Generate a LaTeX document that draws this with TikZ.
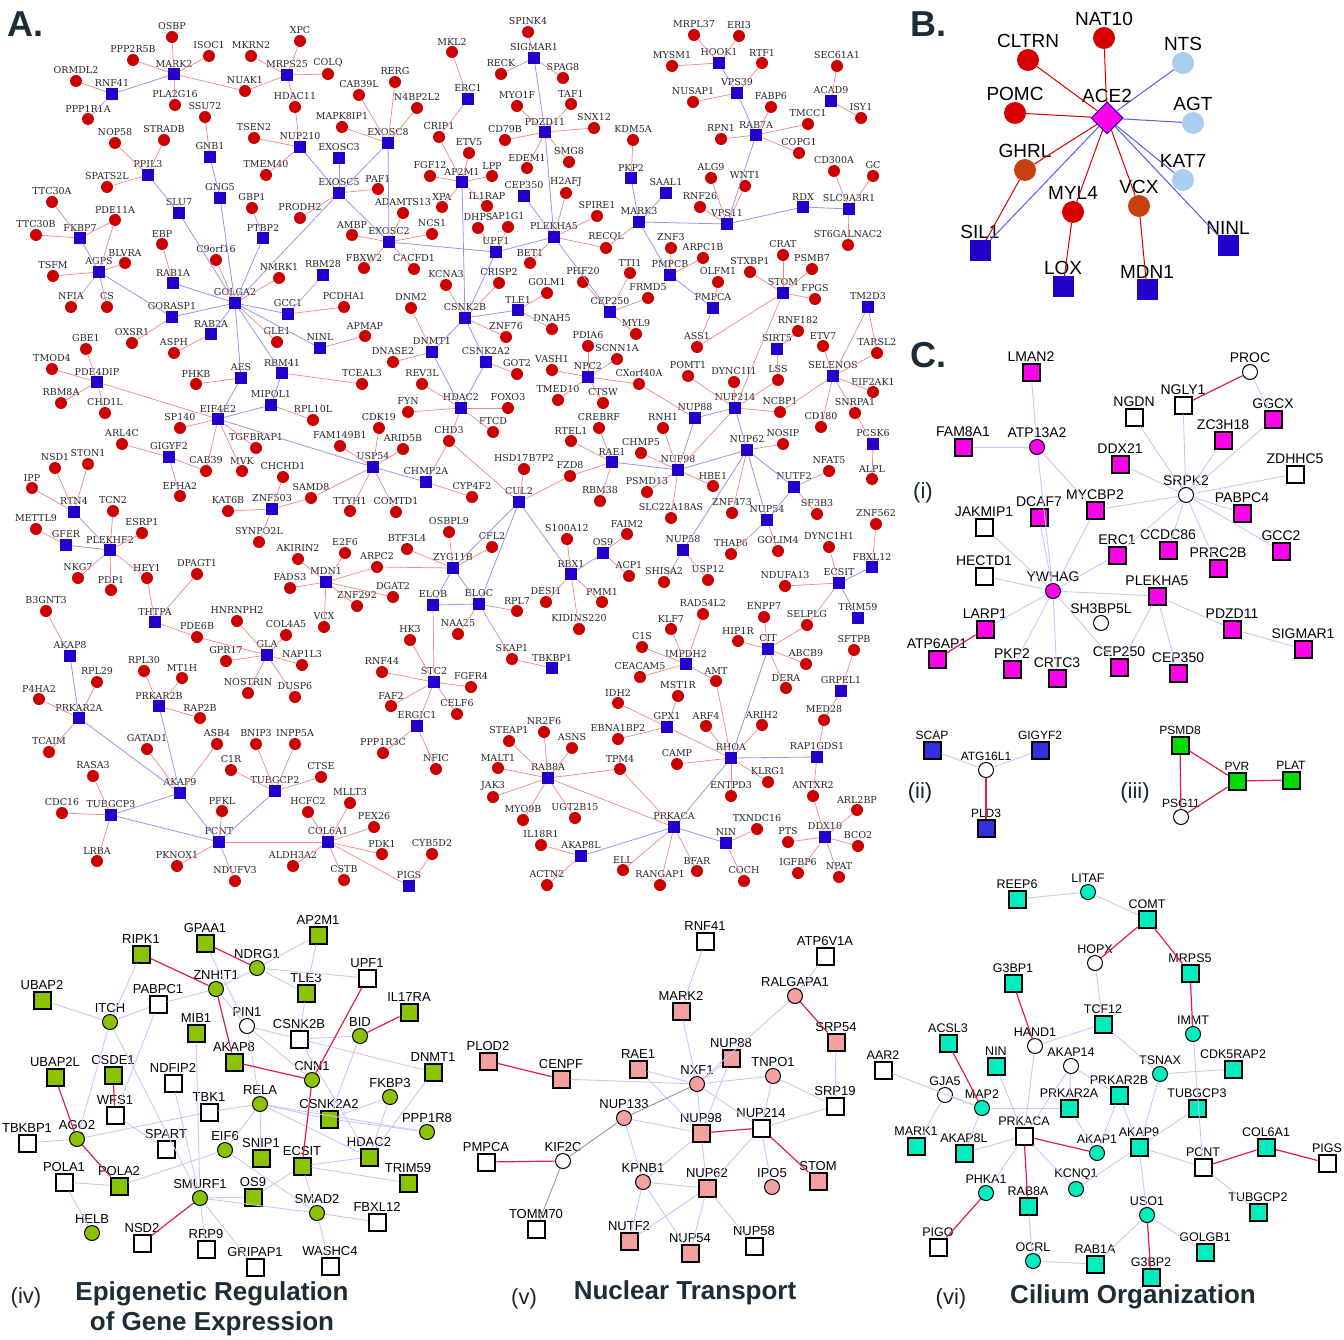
\documentclass[tikz,border=0pt]{standalone}
\usepackage{fontspec}
\setmainfont{DejaVu Serif}
\setsansfont{Liberation Sans}
\usetikzlibrary{shapes.geometric}
\definecolor{hubblue}{RGB}{34,0,204}
\definecolor{leafred}{RGB}{204,0,0}
\definecolor{redline}{RGB}{240,135,135}
\definecolor{blueline}{RGB}{150,150,240}
\definecolor{lav}{RGB}{200,200,248}
\definecolor{crim}{RGB}{225,30,70}
\definecolor{magn}{RGB}{255,0,235}
\definecolor{ygreen}{RGB}{140,195,0}
\definecolor{pinkn}{RGB}{244,160,160}
\definecolor{turq}{RGB}{0,238,190}
\definecolor{ltblue}{RGB}{168,206,240}
\definecolor{orng}{RGB}{200,64,16}
\definecolor{bred}{RGB}{214,0,0}
\definecolor{titlec}{RGB}{28,45,55}
\definecolor{grn}{RGB}{0,220,0}
\definecolor{sblue}{RGB}{50,50,220}

\begin{document}
\begin{tikzpicture}[x=1pt, y=-1pt,
  hub/.style={rectangle, fill=hubblue, minimum size=12, inner sep=0pt},
  leaf/.style={circle, fill=leafred, minimum size=12, inner sep=0pt},
  rl/.style={draw=redline, line width=0.7pt},
  bl/.style={draw=blueline, line width=0.8pt},
  sq/.style={rectangle, draw=black, line width=2pt, minimum size=17, inner sep=0pt, fill=#1},
  sq/.default=white,
  ci/.style={circle, draw=black, line width=1pt, minimum size=15, inner sep=0pt, fill=#1},
  ci/.default=white,
  le/.style={draw=lav, line width=0.9pt},
  ce/.style={draw=crim, line width=1.2pt},
  ge/.style={draw=gray!80, line width=0.9pt},
  panel/.style={font=\sffamily\bfseries\fontsize{36}{36}\selectfont, text=titlec},
  sub/.style={font=\sffamily\fontsize{22}{22}\selectfont, text=titlec!80!black},
  ttl/.style={font=\sffamily\bfseries\fontsize{26}{30}\selectfont, text=titlec, align=center}
]
\useasboundingbox (0,0) rectangle (1344,1340);

% Panel labels
\node[panel] (lA) at (26,24) {A.};
\node[panel] (lB) at (928,24) {B.};
\node[panel] (lC) at (928,355) {C.};

% ---------------- Panel A ----------------
\begin{scope}[every label/.style={font=\fontsize{9.5}{10}\selectfont, text=black!85, inner sep=0.5pt}, label distance=0pt]
% hubs
\node[hub,label=above:MARK2] (MARK2) at (174,74) {};
\node[hub,label=above:RNF41] (RNF41) at (112,94) {};
\node[hub,label=above:MRPS25] (MRPS25) at (287,75) {};
\node[hub,label=above:NUP210] (NUP210) at (300,147) {};
\node[hub,label=above:GNB1] (GNB1) at (210,157) {};
\node[hub,label=above:PPIL3] (PPIL3) at (148,175) {};
\node[hub,label=above:GNG5] (GNG5) at (220,198) {};
\node[hub,label=above:SLU7] (SLU7) at (179,213) {};
\node[hub,label=above:FKBP7] (FKBP7) at (80,238) {};
\node[hub,label=above:PTBP2] (PTBP2) at (263,238) {};
\node[hub,label=above:AGPS] (AGPS) at (99,272) {};
\node[hub,label=above:RAB1A] (RAB1A) at (173,283) {};
\node[hub,label=above:GOLGA2] (GOLGA2) at (235,303) {};
\node[hub,label=above:GORASP1] (GORASP1) at (172,317) {};
\node[hub,label=above:GCC1] (GCC1) at (288,314) {};
\node[hub,label=above:RAB2A] (RAB2A) at (211,334) {};
\node[hub,label=above:AES] (AES) at (241,378) {};
\node[hub,label=above:RBM41] (RBM41) at (282,373) {};
\node[hub,label=above:PDE4DIP] (PDE4DIP) at (97,382) {};
\node[hub,label=above:MIPOL1] (MIPOL1) at (271,405) {};
\node[hub,label=above:EIF4E2] (EIF4E2) at (218,419) {};
\node[hub,label=above:GIGYF2] (GIGYF2) at (169,457) {};
\node[hub,label=above:RTN4] (RTN4) at (74,512) {};
\node[hub,label=above:ZNF503] (ZNF503) at (272,509) {};
\node[hub,label=above:GFER] (GFER) at (66,545) {};
\node[hub,label=above:PLEKHF2] (PLEKHF2) at (110,550) {};
\node[hub,label=above:THTPA] (THTPA) at (155,622) {};
\node[hub,label=above:AKAP8] (AKAP8) at (70,656) {};
\node[hub,label=above:GLA] (GLA) at (267,655) {};
\node[hub,label=above:PRKAR2B] (PRKAR2B) at (159,706) {};
\node[hub,label=above:PRKAR2A] (PRKAR2A) at (79,718) {};
\node[hub,label=above:AKAP9] (AKAP9) at (180,793) {};
\node[hub,label=above:TUBGCP2] (TUBGCP2) at (275,791) {};
\node[hub,label=above:TUBGCP3] (TUBGCP3) at (111,815) {};
\node[hub,label=above:PCNT] (PCNT) at (219,842) {};
\node[hub,label=above:COL6A1] (COL6A1) at (328,842) {};
\node[hub,label=above:PIGS] (PIGS) at (409,886) {};
\node[hub,label=above:SIGMAR1] (SIGMAR1) at (534,58) {};
\node[hub,label=above:ERC1] (ERC1) at (468,99) {};
\node[hub,label=above:EXOSC8] (EXOSC8) at (388,143) {};
\node[hub,label=above:PDZD11] (PDZD11) at (545,132) {};
\node[hub,label=above:EXOSC3] (EXOSC3) at (339,158) {};
\node[hub,label=above:AP2M1] (AP2M1) at (462,182) {};
\node[hub,label=above:EXOSC5] (EXOSC5) at (339,193) {};
\node[hub,label=above:CEP350] (CEP350) at (524,196) {};
\node[hub,label=above:PLEKHA5] (PLEKHA5) at (554,237) {};
\node[hub,label=above:EXOSC2] (EXOSC2) at (389,242) {};
\node[hub,label=above:UPF1] (UPF1) at (496,252) {};
\node[hub,label=above:RBM28] (RBM28) at (323,275) {};
\node[hub,label=above:CSNK2B] (CSNK2B) at (465,318) {};
\node[hub,label=above:TLE1] (TLE1) at (518,310) {};
\node[hub,label=above:NINL] (NINL) at (320,348) {};
\node[hub,label=above:DNMT1] (DNMT1) at (432,352) {};
\node[hub,label=above:CSNK2A2] (CSNK2A2) at (486,362) {};
\node[hub,label=above:HDAC2] (HDAC2) at (461,408) {};
\node[hub,label=above:USP54] (USP54) at (373,467) {};
\node[hub,label=above:CHMP2A] (CHMP2A) at (426,482) {};
\node[hub,label=above:CUL2] (CUL2) at (519,502) {};
\node[hub,label=above:ZYG11B] (ZYG11B) at (453,568) {};
\node[hub,label=above:MDN1] (MDN1) at (326,582) {};
\node[hub,label=above:RBX1] (RBX1) at (571,574) {};
\node[hub,label=above:ELOB] (ELOB) at (433,605) {};
\node[hub,label=above:ELOC] (ELOC) at (479,604) {};
\node[hub,label=above:STC2] (STC2) at (434,682) {};
\node[hub,label=above:TBKBP1] (TBKBP1) at (552,668) {};
\node[hub,label=above:ERGIC1] (ERGIC1) at (417,726) {};
\node[hub,label=above:RAB8A] (RAB8A) at (548,778) {};
\node[hub,label=above:AKAP8L] (AKAP8L) at (581,856) {};
\node[hub,label=above:HOOK1] (HOOK1) at (719,63) {};
\node[hub,label=above:VPS39] (VPS39) at (737,93) {};
\node[hub,label=above:ACAD9] (ACAD9) at (831,101) {};
\node[hub,label=above:RAB7A] (RAB7A) at (756,135) {};
\node[hub,label=above:PKP2] (PKP2) at (631,178) {};
\node[hub,label=above:SAAL1] (SAAL1) at (666,193) {};
\node[hub,label=above:RDX] (RDX) at (803,207) {};
\node[hub,label=above:SLC9A3R1] (SLC9A3R1) at (849,209) {};
\node[hub,label=above:MARK3] (MARK3) at (639,222) {};
\node[hub,label=above:VPS11] (VPS11) at (727,224) {};
\node[hub,label=above:PMPCB] (PMPCB) at (670,275) {};
\node[hub,label=above:STOM] (STOM) at (783,293) {};
\node[hub,label=above:TM2D3] (TM2D3) at (868,307) {};
\node[hub,label=above:CEP250] (CEP250) at (610,312) {};
\node[hub,label=above:PMPCA] (PMPCA) at (713,308) {};
\node[hub,label=above:SIRT5] (SIRT5) at (777,349) {};
\node[hub,label=above:SELENOS] (SELENOS) at (833,376) {};
\node[hub,label=above:NPC2] (NPC2) at (588,377) {};
\node[hub,label=above:NUP214] (NUP214) at (735,408) {};
\node[hub,label=above:NUP88] (NUP88) at (695,418) {};
\node[hub,label=above:PCSK6] (PCSK6) at (873,444) {};
\node[hub,label=above:NUP62] (NUP62) at (747,450) {};
\node[hub,label=above:RAE1] (RAE1) at (612,462) {};
\node[hub,label=above:NUP98] (NUP98) at (678,470) {};
\node[hub,label=above:NUTF2] (NUTF2) at (794,487) {};
\node[hub,label=above:NUP54] (NUP54) at (767,520) {};
\node[hub,label=above:NUP58] (NUP58) at (683,550) {};
\node[hub,label=above:OS9] (OS9) at (603,553) {};
\node[hub,label=above:FBXL12] (FBXL12) at (872,567) {};
\node[hub,label=above:ECSIT] (ECSIT) at (839,583) {};
\node[hub,label=above:TRIM59] (TRIM59) at (858,618) {};
\node[hub,label=above:CIT] (CIT) at (768,649) {};
\node[hub,label=above:IMPDH2] (IMPDH2) at (686,664) {};
\node[hub,label=above:GRPEL1] (GRPEL1) at (841,691) {};
\node[hub,label=above:GPX1] (GPX1) at (667,727) {};
\node[hub,label=above:RHOA] (RHOA) at (731,758) {};
\node[hub,label=above:RAP1GDS1] (RAP1GDS1) at (817,757) {};
\node[hub,label=above:PRKACA] (PRKACA) at (674,827) {};
\node[hub,label=above:DDX10] (DDX10) at (825,837) {};
\node[hub,label=above:NIN] (NIN) at (726,843) {};
% leaves, upper left
\node[leaf,label=above:OSBP] (OSBP) at (172,37) {};
\node[leaf,label=above:PPP2R5B] (PPP2R5B) at (133,60) {};
\node[leaf,label=above:ISOC1] (ISOC1) at (209,56) {};
\node[leaf,label=above:MKRN2] (MKRN2) at (251,56) {};
\node[leaf,label=above:XPC] (XPC) at (300,41) {};
\node[leaf,label=above:ORMDL2] (ORMDL2) at (76,81) {};
\node[leaf,label=above:NUAK1] (NUAK1) at (245,91) {};
\node[leaf,label=above:PLA2G16] (PLA2G16) at (175,105) {};
\node[leaf,label=above:PPP1R1A] (PPP1R1A) at (88,119) {};
\node[leaf,label=above:SSU72] (SSU72) at (205,117) {};
\node[leaf,label=above:HDAC11] (HDAC11) at (295,107) {};
\node[leaf,label=above:NOP58] (NOP58) at (115,143) {};
\node[leaf,label=above:STRADB] (STRADB) at (164,140) {};
\node[leaf,label=above:TSEN2] (TSEN2) at (254,138) {};
\node[leaf,label=above:TMEM40] (TMEM40) at (266,175) {};
\node[leaf,label=above:SPATS2L] (SPATS2L) at (107,187) {};
\node[leaf,label=above:TTC30A] (TTC30A) at (52,202) {};
\node[leaf,label=above:GBP1] (GBP1) at (252,208) {};
\node[leaf,label=above:PDE11A] (PDE11A) at (115,220) {};
\node[leaf,label=above:PRODH2] (PRODH2) at (300,218) {};
\node[leaf,label=above:TTC30B] (TTC30B) at (36,235) {};
\node[leaf,label=above:EBP] (EBP) at (162,244) {};
\node[leaf,label=above:C9orf16] (C9orf16) at (216,260) {};
\node[leaf,label=above:BLVRA] (BLVRA) at (125,263) {};
\node[leaf,label=above:TSFM] (TSFM) at (53,276) {};
\node[leaf,label=above:NMRK1] (NMRK1) at (279,278) {};
\node[leaf,label=above:NFIA] (NFIA) at (71,307) {};
\node[leaf,label=above:CS] (CS) at (107,307) {};
% leaves, upper middle
\node[leaf,label=above:SPINK4] (SPINK4) at (528,32) {};
\node[leaf,label=above:MKL2] (MKL2) at (452,52) {};
\node[leaf,label=above:COLQ] (COLQ) at (328,74) {};
\node[leaf,label=above:RERG] (RERG) at (395,82) {};
\node[leaf,label=above:CAB39L] (CAB39L) at (359,95) {};
\node[leaf,label=above:RECK] (RECK) at (501,74) {};
\node[leaf,label=above:SPAG8] (SPAG8) at (563,78) {};
\node[leaf,label=above:N4BP2L2] (N4BP2L2) at (417,108) {};
\node[leaf,label=above:MYO1F] (MYO1F) at (517,106) {};
\node[leaf,label=above:TAF1] (TAF1) at (571,104) {};
\node[leaf,label=above:MAPK8IP1] (MAPK8IP1) at (342,127) {};
\node[leaf,label=above:CRIP1] (CRIP1) at (439,137) {};
\node[leaf,label=above:CD79B] (CD79B) at (505,140) {};
\node[leaf,label=above:SNX12] (SNX12) at (594,128) {};
\node[leaf,label=above:ETV5] (ETV5) at (469,153) {};
\node[leaf,label=above:SMG8] (SMG8) at (569,162) {};
\node[leaf,label=above:EDEM1] (EDEM1) at (527,168) {};
\node[leaf,label=above:FGF12] (FGF12) at (430,176) {};
\node[leaf,label=above:LPP] (LPP) at (492,176) {};
\node[leaf,label=above:PAF1] (PAF1) at (378,189) {};
\node[leaf,label=above:H2AFJ] (H2AFJ) at (566,193) {};
\node[leaf,label=above:XPA] (XPA) at (442,207) {};
\node[leaf,label=above:IL1RAP] (IL1RAP) at (487,206) {};
\node[leaf,label=above:ADAMTS13] (ADAMTS13) at (403,213) {};
\node[leaf,label=above:SPIRE1] (SPIRE1) at (597,216) {};
\node[leaf,label=above:DHPS] (DHPS) at (478,228) {};
\node[leaf,label=above:AP1G1] (AP1G1) at (508,227) {};
\node[leaf,label=above:AMBP] (AMBP) at (352,235) {};
\node[leaf,label=above:NCS1] (NCS1) at (432,234) {};
\node[leaf,label=above:BET1] (BET1) at (530,263) {};
\node[leaf,label=above:FBXW2] (FBXW2) at (364,268) {};
\node[leaf,label=above:CACFD1] (CACFD1) at (414,269) {};
\node[leaf,label=above:KCNA3] (KCNA3) at (446,285) {};
\node[leaf,label=above:CRISP2] (CRISP2) at (499,283) {};
\node[leaf,label=above:GOLM1] (GOLM1) at (547,293) {};
\node[leaf,label=above:RECQL] (RECQL) at (606,248) {};
\node[leaf,label=above:PHF20] (PHF20) at (583,282) {};
% leaves, upper right
\node[leaf,label=above:MRPL37] (MRPL37) at (694,35) {};
\node[leaf,label=above:ERI3] (ERI3) at (739,36) {};
\node[leaf,label=above:MYSM1] (MYSM1) at (672,66) {};
\node[leaf,label=above:RTF1] (RTF1) at (762,63) {};
\node[leaf,label=above:SEC61A1] (SEC61A1) at (837,66) {};
\node[leaf,label=above:NUSAP1] (NUSAP1) at (693,102) {};
\node[leaf,label=above:FABP6] (FABP6) at (771,107) {};
\node[leaf,label=above:ISY1] (ISY1) at (861,118) {};
\node[leaf,label=above:TMCC1] (TMCC1) at (808,124) {};
\node[leaf,label=above:RPN1] (RPN1) at (721,139) {};
\node[leaf,label=above:KDM5A] (KDM5A) at (633,140) {};
\node[leaf,label=above:COPG1] (COPG1) at (799,153) {};
\node[leaf,label=above:CD300A] (CD300A) at (834,171) {};
\node[leaf,label=above:GC] (GC) at (873,176) {};
\node[leaf,label=above:ALG9] (ALG9) at (711,178) {};
\node[leaf,label=above:WNT1] (WNT1) at (745,186) {};
\node[leaf,label=above:RNF26] (RNF26) at (700,207) {};
\node[leaf,label=above:ST6GALNAC2] (ST6GALNAC2) at (848,245) {};
\node[leaf,label=above:ZNF3] (ZNF3) at (671,248) {};
\node[leaf,label=above:ARPC1B] (ARPC1B) at (703,258) {};
\node[leaf,label=above:CRAT] (CRAT) at (783,255) {};
\node[leaf,label=above:STXBP1] (STXBP1) at (750,272) {};
\node[leaf,label=above:PSMB7] (PSMB7) at (812,269) {};
\node[leaf,label=above:TTI1] (TTI1) at (630,273) {};
\node[leaf,label=above:OLFM1] (OLFM1) at (718,282) {};
\node[leaf,label=above:FRMD5] (FRMD5) at (648,298) {};
\node[leaf,label=above:FPGS] (FPGS) at (815,299) {};
% leaves, centre
\node[leaf,label=above:PCDHA1] (PCDHA1) at (344,307) {};
\node[leaf,label=above:DNM2] (DNM2) at (411,308) {};
\node[leaf,label=above:DNAH5] (DNAH5) at (552,329) {};
\node[leaf,label=above:ZNF76] (ZNF76) at (506,337) {};
\node[leaf,label=above:APMAP] (APMAP) at (365,336) {};
\node[leaf,label=above:PDIA6] (PDIA6) at (588,346) {};
\node[leaf,label=above:DNASE2] (DNASE2) at (393,362) {};
\node[leaf,label=above:VASH1] (VASH1) at (552,370) {};
\node[leaf,label=above:GOT2] (GOT2) at (517,374) {};
\node[leaf,label=above:TCEAL3] (TCEAL3) at (362,384) {};
\node[leaf,label=above:REV3L] (REV3L) at (422,384) {};
\node[leaf,label=above:TMED10] (TMED10) at (558,400) {};
\node[leaf,label=above:FYN] (FYN) at (408,412) {};
\node[leaf,label=above:FOXO3] (FOXO3) at (508,408) {};
\node[leaf,label=above:RPL10L] (RPL10L) at (313,420) {};
\node[leaf,label=above:FTCD] (FTCD) at (493,432) {};
\node[leaf,label=above:CDK19] (CDK19) at (379,428) {};
\node[leaf,label=above:CHD3] (CHD3) at (449,441) {};
\node[leaf,label=above:RTEL1] (RTEL1) at (571,441) {};
\node[leaf,label=above:FAM149B1] (FAM149B1) at (340,446) {};
\node[leaf,label=above:ARID5B] (ARID5B) at (403,449) {};
\node[leaf,label=above:HSD17B7P2] (HSD17B7P2) at (524,469) {};
\node[leaf,label=above:FZD8] (FZD8) at (570,476) {};
\node[leaf,label=above:SAMD8] (SAMD8) at (311,498) {};
\node[leaf,label=above:CYP4F2] (CYP4F2) at (472,497) {};
\node[leaf,label=above:TTYH1] (TTYH1) at (350,511) {};
\node[leaf,label=above:COMTD1] (COMTD1) at (396,512) {};
\node[leaf,label=above:OSBPL9] (OSBPL9) at (449,532) {};
\node[leaf,label=above:S100A12] (S100A12) at (567,539) {};
\node[leaf,label=above:CFL2] (CFL2) at (492,547) {};
\node[leaf,label=above:BTF3L4] (BTF3L4) at (407,549) {};
\node[leaf,label=above:E2F6] (E2F6) at (345,553) {};
\node[leaf,label=above:AKIRIN2] (AKIRIN2) at (298,559) {};
\node[leaf,label=above:ARPC2] (ARPC2) at (377,567) {};
% leaves, centre right
\node[leaf,label=above:MYL9] (MYL9) at (636,334) {};
\node[leaf,label=above:RNF182] (RNF182) at (798,331) {};
\node[leaf,label=above:ETV7] (ETV7) at (823,346) {};
\node[leaf,label=above:TARSL2] (TARSL2) at (877,353) {};
\node[leaf,label=above:ASS1] (ASS1) at (697,347) {};
\node[leaf,label=above:SCNN1A] (SCNN1A) at (617,359) {};
\node[leaf,label=above:POMT1] (POMT1) at (688,376) {};
\node[leaf,label=above:DYNC1I1] (DYNC1I1) at (734,382) {};
\node[leaf,label=above:LSS] (LSS) at (778,380) {};
\node[leaf,label=above:CXorf40A] (CXorf40A) at (639,384) {};
\node[leaf,label=above:EIF2AK1] (EIF2AK1) at (873,392) {};
\node[leaf,label=above:CTSW] (CTSW) at (603,403) {};
\node[leaf,label=above:NCBP1] (NCBP1) at (780,412) {};
\node[leaf,label=above:SNRPA1] (SNRPA1) at (855,413) {};
\node[leaf,label=above:CREBRF] (CREBRF) at (599,428) {};
\node[leaf,label=above:RNH1] (RNH1) at (663,428) {};
\node[leaf,label=above:CD180] (CD180) at (821,427) {};
\node[leaf,label=above:NOSIP] (NOSIP) at (783,444) {};
\node[leaf,label=above:CHMP5] (CHMP5) at (641,453) {};
\node[leaf,label=above:NFAT5] (NFAT5) at (829,471) {};
\node[leaf,label=above:ALPL] (ALPL) at (872,479) {};
\node[leaf,label=above:HBE1] (HBE1) at (713,486) {};
\node[leaf,label=above:PSMD13] (PSMD13) at (647,492) {};
\node[leaf,label=above:RBM38] (RBM38) at (600,501) {};
\node[leaf,label=above:SLC22A18AS] (SLC22A18AS) at (671,518) {};
\node[leaf,label=above:ZNF473] (ZNF473) at (732,513) {};
\node[leaf,label=above:SF3B3] (SF3B3) at (817,514) {};
\node[leaf,label=above:ZNF562] (ZNF562) at (876,524) {};
\node[leaf,label=above:FAIM2] (FAIM2) at (627,534) {};
\node[leaf,label=above:DYNC1H1] (DYNC1H1) at (829,547) {};
\node[leaf,label=above:THAP6] (THAP6) at (731,554) {};
\node[leaf,label=above:GOLIM4] (GOLIM4) at (778,551) {};
\node[leaf,label=above:ACP1] (ACP1) at (629,576) {};
\node[leaf,label=above:SHISA2] (SHISA2) at (664,582) {};
\node[leaf,label=above:USP12] (USP12) at (708,580) {};
\node[leaf,label=above:NDUFA13] (NDUFA13) at (785,586) {};
\node[leaf,label=above:PMM1] (PMM1) at (602,602) {};
% leaves, centre left
\node[leaf,label=above:GBE1] (GBE1) at (86,349) {};
\node[leaf,label=above:OXSR1] (OXSR1) at (132,343) {};
\node[leaf,label=above:GLE1] (GLE1) at (277,342) {};
\node[leaf,label=above:ASPH] (ASPH) at (174,353) {};
\node[leaf,label=above:TMOD4] (TMOD4) at (52,369) {};
\node[leaf,label=above:PHKB] (PHKB) at (196,384) {};
\node[leaf,label=above:RBM8A] (RBM8A) at (61,403) {};
\node[leaf,label=above:CHD1L] (CHD1L) at (105,413) {};
\node[leaf,label=above:SP140] (SP140) at (180,428) {};
\node[leaf,label=above:ARL4C] (ARL4C) at (122,444) {};
\node[leaf,label=above:TGFBRAP1] (TGFBRAP1) at (256,448) {};
\node[leaf,label=above:NSD1] (NSD1) at (55,468) {};
\node[leaf,label=above:STON1] (STON1) at (88,464) {};
\node[leaf,label=above:CAB39] (CAB39) at (206,471) {};
\node[leaf,label=above:MVK] (MVK) at (242,471) {};
\node[leaf,label=above:CHCHD1] (CHCHD1) at (283,477) {};
\node[leaf,label=above:IPP] (IPP) at (32,488) {};
\node[leaf,label=above:EPHA2] (EPHA2) at (180,496) {};
\node[leaf,label=above:TCN2] (TCN2) at (113,511) {};
\node[leaf,label=above:KAT6B] (KAT6B) at (228,511) {};
\node[leaf,label=above:ESRP1] (ESRP1) at (142,533) {};
\node[leaf,label=above:METTL9] (METTL9) at (36,529) {};
\node[leaf,label=above:SYNPO2L] (SYNPO2L) at (259,542) {};
\node[leaf,label=above:NKG7] (NKG7) at (78,578) {};
\node[leaf,label=above:HEY1] (HEY1) at (147,578) {};
\node[leaf,label=above:DPAGT1] (DPAGT1) at (197,574) {};
\node[leaf,label=above:PDP1] (PDP1) at (111,590) {};
\node[leaf,label=above:FADS3] (FADS3) at (290,588) {};
% leaves, lower left
\node[leaf,label=above:B3GNT3] (B3GNT3) at (46,611) {};
\node[leaf,label=above:HNRNPH2] (HNRNPH2) at (237,621) {};
\node[leaf,label=above:PDE6B] (PDE6B) at (197,637) {};
\node[leaf,label=above:COL4A5] (COL4A5) at (286,635) {};
\node[leaf,label=above:GPR17] (GPR17) at (226,661) {};
\node[leaf,label=above:NAP1L3] (NAP1L3) at (302,665) {};
\node[leaf,label=above:RPL30] (RPL30) at (144,671) {};
\node[leaf,label=above:MT1H] (MT1H) at (182,678) {};
\node[leaf,label=above:RPL29] (RPL29) at (97,682) {};
\node[leaf,label=above:NOSTRIN] (NOSTRIN) at (248,693) {};
\node[leaf,label=above:DUSP6] (DUSP6) at (295,697) {};
\node[leaf,label=above:P4HA2] (P4HA2) at (39,699) {};
\node[leaf,label=above:RAP2B] (RAP2B) at (200,718) {};
\node[leaf,label=above:GATAD1] (GATAD1) at (147,749) {};
\node[leaf,label=above:ASB4] (ASB4) at (217,744) {};
\node[leaf,label=above:BNIP3] (BNIP3) at (256,744) {};
\node[leaf,label=above:INPP5A] (INPP5A) at (295,744) {};
\node[leaf,label=above:TCAIM] (TCAIM) at (49,752) {};
\node[leaf,label=above:C1R] (C1R) at (231,770) {};
\node[leaf,label=above:RASA3] (RASA3) at (93,776) {};
\node[leaf,label=above:CTSE] (CTSE) at (321,777) {};
\node[leaf,label=above:PFKL] (PFKL) at (222,811) {};
\node[leaf,label=above:CDC16] (CDC16) at (62,813) {};
\node[leaf,label=above:HCFC2] (HCFC2) at (308,812) {};
\node[leaf,label=above:LRBA] (LRBA) at (97,861) {};
\node[leaf,label=above:PKNOX1] (PKNOX1) at (177,866) {};
\node[leaf,label=above:ALDH3A2] (ALDH3A2) at (293,866) {};
\node[leaf,label=above:NDUFV3] (NDUFV3) at (235,881) {};
% leaves, lower middle
\node[leaf,label=above:ZNF292] (ZNF292) at (357,606) {};
\node[leaf,label=above:DGAT2] (DGAT2) at (393,597) {};
\node[leaf,label=above:VCX] (VCX) at (324,627) {};
\node[leaf,label=above:NAA25] (NAA25) at (458,634) {};
\node[leaf,label=above:HK3] (HK3) at (410,640) {};
\node[leaf,label=above:RPL7] (RPL7) at (517,611) {};
\node[leaf,label=above:DESI1] (DESI1) at (546,602) {};
\node[leaf,label=above:KIDINS220] (KIDINS220) at (579,629) {};
\node[leaf,label=above:SKAP1] (SKAP1) at (512,659) {};
\node[leaf,label=above:RNF44] (RNF44) at (382,672) {};
\node[leaf,label=above:FGFR4] (FGFR4) at (471,687) {};
\node[leaf,label=above:FAF2] (FAF2) at (391,706) {};
\node[leaf,label=above:CELF6] (CELF6) at (457,714) {};
\node[leaf,label=above:NR2F6] (NR2F6) at (544,732) {};
\node[leaf,label=above:STEAP1] (STEAP1) at (509,741) {};
\node[leaf,label=above:ASNS] (ASNS) at (572,748) {};
\node[leaf,label=above:PPP1R3C] (PPP1R3C) at (383,753) {};
\node[leaf,label=above:NFIC] (NFIC) at (436,769) {};
\node[leaf,label=above:MALT1] (MALT1) at (498,768) {};
\node[leaf,label=above:JAK3] (JAK3) at (493,797) {};
\node[leaf,label=above:MLLT3] (MLLT3) at (350,803) {};
\node[leaf,label=above:UGT2B15] (UGT2B15) at (575,818) {};
\node[leaf,label=above:MYO9B] (MYO9B) at (523,820) {};
\node[leaf,label=above:PEX26] (PEX26) at (374,827) {};
\node[leaf,label=above:IL18R1] (IL18R1) at (541,845) {};
\node[leaf,label=above:PDK1] (PDK1) at (382,854) {};
\node[leaf,label=above:CYB5D2] (CYB5D2) at (432,854) {};
\node[leaf,label=above:CSTB] (CSTB) at (344,880) {};
\node[leaf,label=above:ACTN2] (ACTN2) at (547,885) {};
% leaves, lower right
\node[leaf,label=above:RAD54L2] (RAD54L2) at (703,614) {};
\node[leaf,label=above:ENPP7] (ENPP7) at (764,617) {};
\node[leaf,label=above:KLF7] (KLF7) at (671,629) {};
\node[leaf,label=above:SELPLG] (SELPLG) at (807,625) {};
\node[leaf,label=above:C1S] (C1S) at (642,647) {};
\node[leaf,label=above:HIP1R] (HIP1R) at (738,641) {};
\node[leaf,label=above:SFTPB] (SFTPB) at (854,650) {};
\node[leaf,label=above:ABCB9] (ABCB9) at (806,664) {};
\node[leaf,label=above:CEACAM5] (CEACAM5) at (640,677) {};
\node[leaf,label=above:AMT] (AMT) at (716,681) {};
\node[leaf,label=above:DERA] (DERA) at (786,688) {};
\node[leaf,label=above:MST1R] (MST1R) at (678,696) {};
\node[leaf,label=above:IDH2] (IDH2) at (618,703) {};
\node[leaf,label=above:MED28] (MED28) at (824,720) {};
\node[leaf,label=above:ARF4] (ARF4) at (706,726) {};
\node[leaf,label=above:ARIH2] (ARIH2) at (762,725) {};
\node[leaf,label=above:EBNA1BP2] (EBNA1BP2) at (618,739) {};
\node[leaf,label=above:TPM4] (TPM4) at (620,769) {};
\node[leaf,label=above:CAMP] (CAMP) at (677,764) {};
\node[leaf,label=above:KLRG1] (KLRG1) at (768,782) {};
\node[leaf,label=above:ENTPD3] (ENTPD3) at (731,796) {};
\node[leaf,label=above:ANTXR2] (ANTXR2) at (813,796) {};
\node[leaf,label=above:ARL2BP] (ARL2BP) at (857,810) {};
\node[leaf,label=above:TXNDC16] (TXNDC16) at (757,829) {};
\node[leaf,label=above:PTS] (PTS) at (788,842) {};
\node[leaf,label=above:BCO2] (BCO2) at (858,846) {};
\node[leaf,label=above:ELL] (ELL) at (623,870) {};
\node[leaf,label=above:BFAR] (BFAR) at (697,871) {};
\node[leaf,label=above:IGFBP6] (IGFBP6) at (798,873) {};
\node[leaf,label=above:NPAT] (NPAT) at (839,877) {};
\node[leaf,label=above:RANGAP1] (RANGAP1) at (660,885) {};
\node[leaf,label=above:COCH] (COCH) at (744,881) {};
\end{scope}

% hub to hub links
\path[bl] (MARK2) edge (RNF41);
\path[bl] (EXOSC5) edge (NUP210) edge (EXOSC8) edge (EXOSC3) edge (EXOSC2) edge (GOLGA2);
\path[bl] (EXOSC8) edge (EXOSC2);
\path[bl] (UPF1) edge (EXOSC2) edge (PLEKHA5) edge (CSNK2B);
\path[bl] (CSNK2B) edge (AP2M1) edge (TLE1) edge (DNMT1) edge (CSNK2A2);
\path[bl] (HDAC2) edge (DNMT1) edge (CSNK2A2);
\path[bl] (PDZD11) edge (SIGMAR1) edge (PLEKHA5);
\path[bl] (PLEKHA5) edge (CEP350) edge (CEP250);
\path[bl] (MARK3) edge (PKP2) edge (SAAL1) edge (VPS11) edge (PMPCB);
\path[bl] (VPS11) edge (RAB7A) edge (RDX);
\path[bl] (VPS39) edge (RAB7A) edge (HOOK1);
\path[bl] (RDX) edge (SLC9A3R1);
\path[bl] (PMPCB) edge (PMPCA);
\path[bl] (NUP214) edge (NUP88) edge (NUP62);
\path[bl] (NUP98) edge (NUP88) edge (RAE1) edge (NUP62);
\path[bl] (NUP62) edge (NUTF2) edge (NUP54) edge (NUP58);
\path[bl] (NUTF2) edge (NUP54);
\path[bl] (ECSIT) edge (FBXL12) edge (TRIM59);
\path[bl] (RBX1) edge (OS9) edge (CUL2);
\path[bl] (CUL2) edge (ZYG11B) edge (ELOC);
\path[bl] (ZYG11B) edge (ELOB) edge (ELOC);
\path[bl] (ELOB) edge (ELOC);
\path[bl] (USP54) edge (CHMP2A) edge (EIF4E2);
\path[bl] (EIF4E2) edge (AES) edge (MIPOL1);
\path[bl] (MIPOL1) edge (RBM41);
\path[bl] (GOLGA2) edge (RBM41) edge (AES) edge (GNG5) edge (SLU7) edge (PTBP2) edge (RAB1A) edge (GORASP1) edge (GCC1) edge (RAB2A) edge (NINL);
\path[bl] (GNG5) edge (GNB1);
\path[bl] (SLU7) edge (PPIL3);
\path[bl] (AGPS) edge (GORASP1) edge (FKBP7);
\path[bl] (PLEKHF2) edge (RTN4) edge (GFER);
\path[bl] (PRKAR2A) edge (AKAP8) edge (AKAP9);
\path[bl] (AKAP9) edge (PRKAR2B) edge (TUBGCP3) edge (PCNT);
\path[bl] (PCNT) edge (TUBGCP3) edge (TUBGCP2);
\path[bl] (RHOA) edge (CIT) edge (RAP1GDS1) edge (PRKACA);
\path[bl] (PRKACA) edge (NIN) edge (AKAP8L);

% hub to leaf links
\path[rl] (MARK2) edge (OSBP) edge (PPP2R5B) edge (ISOC1) edge (PLA2G16) edge (NUAK1);
\path[rl] (RNF41) edge (ORMDL2) edge (PPP1R1A);
\path[rl] (MRPS25) edge (MKRN2) edge (XPC) edge (COLQ) edge (NUAK1) edge (HDAC11);
\path[rl] (NUP210) edge (HDAC11) edge (TSEN2) edge (TMEM40);
\path[rl] (GNB1) edge (SSU72);
\path[rl] (PPIL3) edge (NOP58) edge (STRADB) edge (SPATS2L);
\path[rl] (FKBP7) edge (TTC30A) edge (TTC30B) edge (PDE11A);
\path[rl] (AGPS) edge (PDE11A) edge (BLVRA) edge (TSFM) edge (NFIA) edge (CS);
\path[rl] (PTBP2) edge (GBP1);
\path[rl] (RAB1A) edge (EBP);
\path[rl] (GOLGA2) edge (C9orf16) edge (NMRK1) edge (GLE1);
\path[rl] (GORASP1) edge (OXSR1);
\path[rl] (RAB2A) edge (ASPH);
\path[rl] (GCC1) edge (PCDHA1) edge (RBM28);
\path[rl] (EXOSC8) edge (CAB39L) edge (RERG) edge (N4BP2L2) edge (MAPK8IP1);
\path[rl] (EXOSC5) edge (PAF1) edge (PRODH2);
\path[rl] (EXOSC2) edge (AMBP) edge (ADAMTS13) edge (NCS1) edge (FBXW2) edge (CACFD1);
\path[rl] (ERC1) edge (MKL2) edge (CRIP1);
\path[rl] (AP2M1) edge (CRIP1) edge (ETV5) edge (FGF12) edge (LPP) edge (XPA) edge (IL1RAP);
\path[rl] (SIGMAR1) edge (SPINK4) edge (RECK) edge (SPAG8);
\path[rl] (PDZD11) edge (MYO1F) edge (TAF1) edge (CD79B) edge (SNX12) edge (SMG8) edge (EDEM1);
\path[rl] (PLEKHA5) edge (H2AFJ) edge (SPIRE1) edge (BET1) edge (RECQL);
\path[rl] (UPF1) edge (DHPS) edge (AP1G1);
\path[rl] (CSNK2B) edge (KCNA3) edge (CRISP2) edge (ZNF76);
\path[rl] (TLE1) edge (DNAH5) edge (GOLM1);
\path[rl] (MARK3) edge (RECQL);
\path[rl] (PKP2) edge (KDM5A);
\path[rl] (VPS11) edge (ALG9) edge (WNT1) edge (RNF26);
\path[rl] (RAB7A) edge (RPN1) edge (FABP6) edge (TMCC1) edge (COPG1);
\path[rl] (VPS39) edge (NUSAP1) edge (RTF1);
\path[rl] (HOOK1) edge (MRPL37) edge (ERI3) edge (MYSM1);
\path[rl] (ACAD9) edge (SEC61A1) edge (ISY1);
\path[rl] (SLC9A3R1) edge (CD300A) edge (GC) edge (ST6GALNAC2);
\path[rl] (PMPCB) edge (ZNF3) edge (ARPC1B);
\path[rl] (PMPCA) edge (OLFM1) edge (ASS1);
\path[rl] (CEP250) edge (PHF20) edge (TTI1) edge (FRMD5) edge (MYL9);
\path[rl] (STOM) edge (CRAT) edge (STXBP1) edge (PSMB7) edge (FPGS) edge (ASS1) edge (NUP214);
\path[rl] (NUP214) edge (DYNC1I1) edge (LSS) edge (NCBP1) edge (POMT1) edge (NUP98);
\path[rl] (SIRT5) edge (LSS) edge (RNF182);
\path[rl] (TM2D3) edge (SELENOS) edge (TARSL2);
\path[rl] (SELENOS) edge (ETV7) edge (TARSL2) edge (EIF2AK1) edge (SNRPA1) edge (CD180) edge (NCBP1);
\path[rl] (PCSK6) edge (SNRPA1) edge (ALPL);
\path[rl] (NPC2) edge (PDIA6) edge (SCNN1A) edge (VASH1) edge (TMED10) edge (CTSW) edge (CXorf40A);
\path[rl] (NUP88) edge (CXorf40A);
\path[rl] (NUP98) edge (RNH1) edge (CHMP5) edge (PSMD13) edge (HBE1) edge (SLC22A18AS);
\path[rl] (NUP62) edge (NOSIP) edge (ZNF473);
\path[rl] (NUTF2) edge (NFAT5) edge (SF3B3);
\path[rl] (NUP54) edge (THAP6) edge (GOLIM4);
\path[rl] (NUP58) edge (SHISA2) edge (USP12);
\path[rl] (FBXL12) edge (ZNF562);
\path[rl] (ECSIT) edge (NDUFA13) edge (DYNC1H1) edge (SELPLG);
\path[rl] (RAE1) edge (CREBRF) edge (RTEL1) edge (FZD8) edge (RBM38);
\path[rl] (CUL2) edge (HSD17B7P2) edge (FZD8) edge (CHD3);
\path[rl] (OS9) edge (FAIM2) edge (ACP1);
\path[rl] (RBX1) edge (S100A12) edge (DESI1) edge (KIDINS220) edge (PMM1);
\path[rl] (ZYG11B) edge (OSBPL9) edge (CFL2) edge (BTF3L4) edge (ARPC2);
\path[rl] (MDN1) edge (AKIRIN2) edge (E2F6) edge (FADS3) edge (ZNF292) edge (ARPC2) edge (VCX) edge (DGAT2);
\path[rl] (ELOB) edge (STC2);
\path[rl] (ELOC) edge (RPL7) edge (NAA25) edge (SKAP1);
\path[rl] (SKAP1) edge (TBKBP1);
\path[rl] (STC2) edge (HK3) edge (RNF44) edge (FGFR4) edge (FAF2) edge (CELF6) edge (ERGIC1);
\path[rl] (ERGIC1) edge (PPP1R3C) edge (NFIC);
\path[rl] (HDAC2) edge (REV3L) edge (FYN) edge (FOXO3) edge (FTCD) edge (CHD3);
\path[rl] (DNMT1) edge (DNASE2) edge (DNM2);
\path[rl] (CSNK2A2) edge (GOT2);
\path[rl] (NINL) edge (APMAP);
\path[rl] (USP54) edge (CDK19) edge (FAM149B1) edge (ARID5B) edge (SAMD8) edge (TTYH1) edge (COMTD1);
\path[rl] (CHMP2A) edge (CYP4F2) edge (CHD3);
\path[rl] (EIF4E2) edge (SP140) edge (CAB39) edge (MVK) edge (TGFBRAP1) edge (PDE4DIP);
\path[rl] (MIPOL1) edge (RPL10L);
\path[rl] (RBM41) edge (TCEAL3);
\path[rl] (AES) edge (PHKB);
\path[rl] (PDE4DIP) edge (GBE1) edge (TMOD4) edge (RBM8A) edge (CHD1L);
\path[rl] (GIGYF2) edge (ARL4C) edge (CAB39) edge (EPHA2);
\path[rl] (ZNF503) edge (CHCHD1) edge (KAT6B) edge (SYNPO2L) edge (SAMD8);
\path[rl] (RTN4) edge (NSD1) edge (STON1) edge (IPP);
\path[rl] (PLEKHF2) edge (TCN2) edge (ESRP1) edge (HEY1) edge (PDP1) edge (NKG7);
\path[rl] (GFER) edge (METTL9);
\path[rl] (THTPA) edge (HEY1) edge (DPAGT1) edge (PDE6B);
\path[rl] (GLA) edge (PDE6B) edge (HNRNPH2) edge (COL4A5) edge (GPR17) edge (NOSTRIN) edge (DUSP6) edge (NAP1L3);
\path[rl] (AKAP8) edge (B3GNT3);
\path[rl] (PRKAR2A) edge (P4HA2) edge (RPL29) edge (TCAIM);
\path[rl] (PRKAR2B) edge (RPL30) edge (MT1H) edge (RAP2B);
\path[rl] (AKAP9) edge (GATAD1) edge (ASB4);
\path[rl] (TUBGCP3) edge (RASA3) edge (CDC16) edge (LRBA);
\path[rl] (TUBGCP2) edge (C1R) edge (BNIP3) edge (INPP5A) edge (CTSE);
\path[rl] (PCNT) edge (PFKL) edge (PKNOX1) edge (NDUFV3) edge (COL6A1);
\path[rl] (COL6A1) edge (HCFC2) edge (MLLT3) edge (PEX26) edge (PDK1) edge (CSTB) edge (ALDH3A2) edge (PIGS);
\path[rl] (PIGS) edge (CYB5D2);
\path[rl] (RAB8A) edge (NR2F6) edge (STEAP1) edge (ASNS) edge (MALT1) edge (JAK3) edge (MYO9B) edge (UGT2B15) edge (TPM4) edge (PRKACA);
\path[rl] (AKAP8L) edge (IL18R1) edge (ACTN2);
\path[rl] (IMPDH2) edge (KLF7) edge (RAD54L2) edge (C1S) edge (CEACAM5) edge (AMT);
\path[rl] (CIT) edge (ENPP7) edge (HIP1R) edge (SELPLG) edge (ABCB9) edge (DERA);
\path[rl] (GPX1) edge (MST1R) edge (IDH2) edge (EBNA1BP2) edge (RHOA);
\path[rl] (RHOA) edge (AMT) edge (ARF4) edge (ARIH2) edge (CAMP) edge (KLRG1) edge (ENTPD3);
\path[rl] (GRPEL1) edge (SFTPB) edge (MED28);
\path[rl] (RAP1GDS1) edge (MED28) edge (ANTXR2);
\path[rl] (DDX10) edge (ANTXR2) edge (ARL2BP) edge (BCO2) edge (NPAT) edge (IGFBP6) edge (PTS);
\path[rl] (PRKACA) edge (TPM4) edge (ELL) edge (RANGAP1) edge (BFAR);
\path[rl] (NIN) edge (TXNDC16) edge (COCH);

% ---------------- Panel B ----------------
\begin{scope}[every label/.style={font=\sffamily\fontsize{19}{19}\selectfont, inner sep=1pt}, label distance=0pt,
  bci/.style={circle, minimum size=22, inner sep=0pt, fill=#1},
  bsq/.style={rectangle, minimum size=21, inner sep=0pt, fill=hubblue}]
\node[diamond, draw=hubblue, line width=1pt, fill=magn, minimum size=32, inner sep=0pt, label={[yshift=-2pt]above:ACE2}] (b-ACE2) at (1107,118) {};
\node[bci=bred, label=above:NAT10] (b-NAT10) at (1104,38) {};
\node[bci=bred, label=above:CLTRN] (b-CLTRN) at (1028,60) {};
\node[bci=ltblue, label=above:NTS] (b-NTS) at (1183,63) {};
\node[bci=bred, label=above:POMC] (b-POMC) at (1015,113) {};
\node[bci=ltblue, label=above:AGT] (b-AGT) at (1193,123) {};
\node[bci=orng, label=above:GHRL] (b-GHRL) at (1025,170) {};
\node[bci=ltblue, label=above:KAT7] (b-KAT7) at (1183,180) {};
\node[bci=orng, label=above:VCX] (b-VCX) at (1139,206) {};
\node[bci=bred, label=above:MYL4] (b-MYL4) at (1073,212) {};
\node[bsq, label=above:SIL1] (b-SIL1) at (980,251) {};
\node[bsq, label=above:NINL] (b-NINL) at (1228,246) {};
\node[bsq, label=above:LOX] (b-LOX) at (1063,287) {};
\node[bsq, label=above:MDN1] (b-MDN1) at (1147,290) {};
\end{scope}
\path[draw=bred, line width=1pt] (b-ACE2) edge (b-NAT10) edge (b-CLTRN) edge (b-POMC) edge (b-GHRL) edge (b-MYL4) edge (b-VCX);
\path[draw=bred, line width=1pt] (b-GHRL) edge (b-SIL1);
\path[draw=bred, line width=1pt] (b-MYL4) edge (b-LOX);
\path[draw=bred, line width=1pt] (b-VCX) edge (b-MDN1);
\path[draw=sblue!80, line width=1pt] (b-ACE2) edge (b-NTS) edge (b-AGT) edge (b-KAT7) edge (b-SIL1) edge (b-NINL);

% ---------------- Panel C ----------------
\node[sub] (sub-i) at (923,493) {(i)};
\begin{scope}[every label/.style={font=\sffamily\fontsize{14}{14}\selectfont, inner sep=1pt}, label distance=0pt]
\node[sq=magn, label=above:LMAN2] (i-LMAN2) at (1031,372) {};
\node[ci, label=above:PROC] (i-PROC) at (1250,372) {};
\node[sq, label=above:NGLY1] (i-NGLY1) at (1183,405) {};
\node[sq, label=above:NGDN] (i-NGDN) at (1134,417) {};
\node[sq=magn, label=above:GGCX] (i-GGCX) at (1273,419) {};
\node[sq=magn, label=above:ZC3H18] (i-ZC3H18) at (1223,440) {};
\node[sq=magn, label=above:FAM8A1] (i-FAM8A1) at (963,447) {};
\node[ci=magn, label=above:ATP13A2] (i-ATP13A2) at (1037,447) {};
\node[sq=magn, label=above:DDX21] (i-DDX21) at (1120,464) {};
\node[sq, label=above:ZDHHC5] (i-ZDHHC5) at (1295,474) {};
\node[ci, label=above:SRPK2] (i-SRPK2) at (1186,495) {};
\node[sq=magn, label=above:PABPC4] (i-PABPC4) at (1242,513) {};
\node[sq=magn, label=above:MYCBP2] (i-MYCBP2) at (1095,510) {};
\node[sq=magn, label=above:DCAF7] (i-DCAF7) at (1039,517) {};
\node[sq, label=above:JAKMIP1] (i-JAKMIP1) at (984,527) {};
\node[sq=magn, label=above:ERC1] (i-ERC1) at (1117,555) {};
\node[sq=magn, label=above:CCDC86] (i-CCDC86) at (1168,550) {};
\node[sq=magn, label=above:GCC2] (i-GCC2) at (1281,551) {};
\node[sq=magn, label=above:PRRC2B] (i-PRRC2B) at (1218,568) {};
\node[sq, label=above:HECTD1] (i-HECTD1) at (984,576) {};
\node[ci=magn, label=above:YWHAG] (i-YWHAG) at (1053,591) {};
\node[sq=magn, label=above:PLEKHA5] (i-PLEKHA5) at (1157,596) {};
\node[ci, label=above:SH3BP5L] (i-SH3BP5L) at (1101,623) {};
\node[sq=magn, label=above:PDZD11] (i-PDZD11) at (1232,629) {};
\node[sq=magn, label=above:SIGMAR1] (i-SIGMAR1) at (1303,649) {};
\node[sq=magn, label=above:LARP1] (i-LARP1) at (985,629) {};
\node[sq=magn, label=above:ATP6AP1] (i-ATP6AP1) at (937,659) {};
\node[sq=magn, label=above:PKP2] (i-PKP2) at (1012,669) {};
\node[sq=magn, label=above:CRTC3] (i-CRTC3) at (1057,678) {};
\node[sq=magn, label=above:CEP250] (i-CEP250) at (1119,667) {};
\node[sq=magn, label=above:CEP350] (i-CEP350) at (1178,673) {};
\end{scope}
\path[le] (i-ATP13A2) edge (i-LMAN2) edge (i-FAM8A1) edge (i-YWHAG) edge (i-MYCBP2);
\path[le] (i-SRPK2) edge (i-NGDN) edge (i-NGLY1) edge (i-ZC3H18) edge (i-GGCX) edge (i-DDX21) edge (i-ZDHHC5) edge (i-PABPC4) edge (i-GCC2) edge (i-PRRC2B) edge (i-CCDC86) edge (i-ERC1) edge (i-MYCBP2);
\path[le] (i-PROC) edge (i-GGCX);
\path[le] (i-YWHAG) edge (i-DCAF7) edge (i-MYCBP2) edge (i-ERC1) edge (i-JAKMIP1) edge (i-HECTD1) edge (i-LARP1) edge (i-PKP2) edge (i-CRTC3) edge (i-CEP250) edge (i-PLEKHA5);
\path[le] (i-PLEKHA5) edge (i-CEP250) edge (i-CEP350) edge (i-PDZD11);
\path[le] (i-PDZD11) edge (i-SIGMAR1);
\path[ce] (i-NGLY1) edge (i-PROC);
\path[ce] (i-LARP1) edge (i-ATP6AP1);

% (ii) and (iii)
\node[sub] (sub-ii) at (920,793) {(ii)};
\node[sub] (sub-iii) at (1135,793) {(iii)};
\begin{scope}[every label/.style={font=\sffamily\fontsize{12}{12}\selectfont, inner sep=1pt}, label distance=0pt]
\node[sq=sblue, label=above:SCAP] (ii-SCAP) at (932,750) {};
\node[ci, label=above:ATG16L1] (ii-ATG16L1) at (986,770) {};
\node[sq=sblue, label=above:GIGYF2] (ii-GIGYF2) at (1040,750) {};
\node[sq=sblue, label=above:PLD3] (ii-PLD3) at (986,828) {};
\node[sq=grn, label=above:PSMD8] (iii-PSMD8) at (1180,745) {};
\node[sq=grn, label=above:PVR] (iii-PVR) at (1237,781) {};
\node[sq=grn, label=above:PLAT] (iii-PLAT) at (1291,780) {};
\node[ci, label=above:PSG11] (iii-PSG11) at (1181,817) {};
\end{scope}
\path[le] (ii-ATG16L1) edge (ii-SCAP) edge (ii-GIGYF2);
\path[ce] (ii-ATG16L1) edge (ii-PLD3);
\path[ce] (iii-PSMD8) edge (iii-PVR) edge (iii-PSG11);
\path[ce] (iii-PVR) edge (iii-PSG11) edge (iii-PLAT);

% ---------------- Panel (iv) ----------------
\begin{scope}[every label/.style={font=\sffamily\fontsize{13}{13}\selectfont, inner sep=1pt}, label distance=0pt]
\node[sq=ygreen, label=above:RIPK1] (e-RIPK1) at (141,954) {};
\node[sq=ygreen, label=above:GPAA1] (e-GPAA1) at (205,943) {};
\node[sq=ygreen, label=above:AP2M1] (e-AP2M1) at (318,935) {};
\node[ci=ygreen, label=above:NDRG1] (e-NDRG1) at (257,968) {};
\node[ci=ygreen, label=above:ZNHIT1] (e-ZNHIT1) at (216,989) {};
\node[sq, label=above:UPF1] (e-UPF1) at (367,978) {};
\node[sq=ygreen, label=above:TLE3] (e-TLE3) at (306,993) {};
\node[sq=ygreen, label=above:UBAP2] (e-UBAP2) at (42,1000) {};
\node[ci=ygreen, label=above:ITCH] (e-ITCH) at (110,1022) {};
\node[sq, label=above:PABPC1] (e-PABPC1) at (158,1004) {};
\node[sq=ygreen, label=above:IL17RA] (e-IL17RA) at (409,1012) {};
\node[ci, label=above:PIN1] (e-PIN1) at (247,1026) {};
\node[sq=ygreen, label=above:MIB1] (e-MIB1) at (196,1033) {};
\node[sq, label=above:CSNK2B] (e-CSNK2B) at (299,1039) {};
\node[ci=ygreen, label=above:BID] (e-BID) at (360,1036) {};
\node[sq=ygreen, label=above:AKAP8] (e-AKAP8) at (234,1062) {};
\node[ci=ygreen, label=above:CNN1] (e-CNN1) at (312,1080) {};
\node[sq=ygreen, label=above:DNMT1] (e-DNMT1) at (433,1072) {};
\node[sq=ygreen, label=above:UBAP2L] (e-UBAP2L) at (55,1077) {};
\node[sq=ygreen, label=above:CSDE1] (e-CSDE1) at (113,1075) {};
\node[sq, label=above:NDFIP2] (e-NDFIP2) at (173,1083) {};
\node[ci=ygreen, label=above:FKBP3] (e-FKBP3) at (390,1097) {};
\node[sq, label=above:WFS1] (e-WFS1) at (115,1115) {};
\node[sq, label=above:TBK1] (e-TBK1) at (209,1112) {};
\node[ci=ygreen, label=above:RELA] (e-RELA) at (260,1104) {};
\node[sq=ygreen, label=above:CSNK2A2] (e-CSNK2A2) at (329,1119) {};
\node[ci=ygreen, label=above:PPP1R8] (e-PPP1R8) at (427,1132) {};
\node[sq, label=above:TBKBP1] (e-TBKBP1) at (27,1143) {};
\node[ci=ygreen, label=above:AGO2] (e-AGO2) at (77,1139) {};
\node[sq, label=above:SPART] (e-SPART) at (166,1149) {};
\node[ci=ygreen, label=above:EIF6] (e-EIF6) at (225,1150) {};
\node[sq=ygreen, label=above:SNIP1] (e-SNIP1) at (261,1158) {};
\node[sq=ygreen, label=above:ECSIT] (e-ECSIT) at (302,1166) {};
\node[sq=ygreen, label=above:HDAC2] (e-HDAC2) at (369,1157) {};
\node[sq=ygreen, label=above:TRIM59] (e-TRIM59) at (408,1183) {};
\node[sq, label=above:POLA1] (e-POLA1) at (64,1182) {};
\node[sq=ygreen, label=above:POLA2] (e-POLA2) at (119,1186) {};
\node[ci=ygreen, label=above:SMURF1] (e-SMURF1) at (200,1198) {};
\node[sq=ygreen, label=above:OS9] (e-OS9) at (253,1197) {};
\node[ci=ygreen, label=above:SMAD2] (e-SMAD2) at (317,1213) {};
\node[sq, label=above:FBXL12] (e-FBXL12) at (377,1222) {};
\node[ci=ygreen, label=above:HELB] (e-HELB) at (92,1233) {};
\node[sq, label=above:NSD2] (e-NSD2) at (142,1243) {};
\node[sq, label=above:RRP9] (e-RRP9) at (206,1249) {};
\node[sq, label=above:GRIPAP1] (e-GRIPAP1) at (255,1267) {};
\node[sq, label=above:WASHC4] (e-WASHC4) at (330,1266) {};
\end{scope}
\path[le] (e-ITCH) edge (e-UBAP2) edge (e-RIPK1) edge (e-PABPC1) edge (e-AGO2) edge (e-SMURF1);
\path[le] (e-PABPC1) edge (e-ZNHIT1) edge (e-WFS1);
\path[le] (e-NDRG1) edge (e-AP2M1) edge (e-TLE3) edge (e-UPF1) edge (e-ZNHIT1);
\path[le] (e-AP2M1) edge (e-TLE3);
\path[le] (e-PIN1) edge (e-GPAA1) edge (e-ZNHIT1) edge (e-CSNK2B) edge (e-RELA) edge (e-CNN1);
\path[le] (e-CSNK2B) edge (e-TLE3) edge (e-BID) edge (e-DNMT1) edge (e-HDAC2);
\path[le] (e-MIB1) edge (e-SMURF1);
\path[le] (e-BID) edge (e-CSNK2A2);
\path[le] (e-RELA) edge (e-TBK1) edge (e-SNIP1) edge (e-EIF6) edge (e-CSNK2A2) edge (e-PPP1R8) edge (e-HDAC2);
\path[le] (e-AGO2) edge (e-TBKBP1) edge (e-TBK1);
\path[le] (e-WFS1) edge (e-SPART);
\path[le] (e-NDFIP2) edge (e-SMURF1);
\path[le] (e-EIF6) edge (e-POLA2) edge (e-SMAD2);
\path[le] (e-FKBP3) edge (e-CSNK2A2) edge (e-HDAC2);
\path[le] (e-DNMT1) edge (e-HDAC2);
\path[le] (e-PPP1R8) edge (e-CSNK2A2);
\path[le] (e-ECSIT) edge (e-OS9) edge (e-TRIM59) edge (e-SMAD2) edge (e-HDAC2);
\path[le] (e-SMURF1) edge (e-OS9) edge (e-RRP9) edge (e-GRIPAP1) edge (e-SMAD2);
\path[le] (e-POLA1) edge (e-POLA2) edge (e-HELB);
\path[le] (e-SMAD2) edge (e-WASHC4) edge (e-FBXL12);
\path[ce] (e-RIPK1) edge (e-ZNHIT1);
\path[ce] (e-GPAA1) edge (e-NDRG1);
\path[ce] (e-ZNHIT1) edge (e-AKAP8);
\path[ce] (e-CNN1) edge (e-AKAP8) edge (e-UPF1) edge (e-ECSIT);
\path[ce] (e-BID) edge (e-IL17RA);
\path[ce] (e-CSDE1) edge (e-WFS1);
\path[ce] (e-AGO2) edge (e-UBAP2L) edge (e-POLA2);
\path[ce] (e-SMURF1) edge (e-NSD2);
\node[sub] (sub-iv) at (26,1298) {(iv)};
\node[ttl] (t-iv) at (212,1309) {Epigenetic Regulation\\of Gene Expression};

% ---------------- Panel (v) ----------------
\begin{scope}[every label/.style={font=\sffamily\fontsize{13}{13}\selectfont, inner sep=1pt}, label distance=0pt]
\node[sq, label=above:RNF41] (n-RNF41) at (705,941) {};
\node[sq, label=above:ATP6V1A] (n-ATP6V1A) at (825,956) {};
\node[ci=pinkn, label=above:RALGAPA1] (n-RALGAPA1) at (795,996) {};
\node[sq=pinkn, label=above:MARK2] (n-MARK2) at (681,1011) {};
\node[sq=pinkn, label=above:SRP54] (n-SRP54) at (836,1042) {};
\node[sq=pinkn, label=above:NUP88] (n-NUP88) at (731,1058) {};
\node[sq=pinkn, label=above:PLOD2] (n-PLOD2) at (488,1061) {};
\node[sq=pinkn, label=above:CENPF] (n-CENPF) at (561,1079) {};
\node[sq=pinkn, label=above:RAE1] (n-RAE1) at (638,1069) {};
\node[ci=pinkn, label=above:TNPO1] (n-TNPO1) at (773,1076) {};
\node[ci=pinkn, label=above:NXF1] (n-NXF1) at (697,1084) {};
\node[sq, label=above:SRP19] (n-SRP19) at (835,1106) {};
\node[ci=pinkn, label=above:NUP133] (n-NUP133) at (624,1118) {};
\node[sq, label=above:NUP214] (n-NUP214) at (761,1128) {};
\node[sq=pinkn, label=above:NUP98] (n-NUP98) at (701,1133) {};
\node[sq, label=above:PMPCA] (n-PMPCA) at (486,1162) {};
\node[ci, label=above:KIF2C] (n-KIF2C) at (563,1161) {};
\node[ci=pinkn, label=above:KPNB1] (n-KPNB1) at (643,1182) {};
\node[sq=pinkn, label=above:STOM] (n-STOM) at (818,1181) {};
\node[ci=pinkn, label=above:IPO5] (n-IPO5) at (772,1187) {};
\node[sq=pinkn, label=above:NUP62] (n-NUP62) at (707,1188) {};
\node[sq, label=above:TOMM70] (n-TOMM70) at (536,1229) {};
\node[sq=pinkn, label=above:NUTF2] (n-NUTF2) at (629,1241) {};
\node[sq, label=above:NUP58] (n-NUP58) at (754,1246) {};
\node[sq=pinkn, label=above:NUP54] (n-NUP54) at (690,1253) {};
\end{scope}
\path[le] (n-MARK2) edge (n-RNF41) edge (n-NXF1);
\path[le] (n-RALGAPA1) edge (n-ATP6V1A) edge (n-NXF1);
\path[le] (n-NXF1) edge (n-CENPF) edge (n-RAE1) edge (n-NUP88) edge (n-TNPO1) edge (n-NUP98) edge (n-NUP214);
\path[le] (n-NUP98) edge (n-NUP88) edge (n-RAE1) edge (n-KPNB1) edge (n-NUP62) edge (n-NUP133);
\path[le] (n-TNPO1) edge (n-SRP19) edge (n-NUP214);
\path[le] (n-SRP19) edge (n-SRP54) edge (n-NUP214);
\path[le] (n-NUP214) edge (n-IPO5) edge (n-NUP62);
\path[le] (n-KPNB1) edge (n-NUTF2) edge (n-NUP62) edge (n-NUP54) edge (n-NUP133);
\path[le] (n-NUP62) edge (n-NUP54) edge (n-NUP58) edge (n-NUTF2);
\path[ge] (n-NUP133) edge (n-NXF1) edge (n-KIF2C);
\path[ge] (n-KIF2C) edge (n-TOMM70);
\path[ce] (n-RALGAPA1) edge (n-SRP54);
\path[ce] (n-PLOD2) edge (n-CENPF);
\path[ce] (n-KIF2C) edge (n-PMPCA);
\path[ce] (n-NUP98) edge (n-NUP214);
\path[ce] (n-NUP214) edge (n-STOM);
\node[sub] (sub-v) at (524,1299) {(v)};
\node[ttl] (t-v) at (685,1293) {Nuclear Transport};

% ---------------- Panel (vi) ----------------
\begin{scope}[every label/.style={font=\sffamily\fontsize{12.5}{12.5}\selectfont, inner sep=1pt}, label distance=0pt]
\node[sq=turq, label=above:REEP6] (c-REEP6) at (1017,899) {};
\node[ci=turq, label=above:LITAF] (c-LITAF) at (1088,892) {};
\node[sq=turq, label=above:COMT] (c-COMT) at (1147,919) {};
\node[ci, label=above:HOPX] (c-HOPX) at (1095,963) {};
\node[sq=turq, label=above:MRPS5] (c-MRPS5) at (1190,973) {};
\node[sq=turq, label=above:G3BP1] (c-G3BP1) at (1013,983) {};
\node[sq=turq, label=above:TCF12] (c-TCF12) at (1103,1024) {};
\node[ci=turq, label=above:IMMT] (c-IMMT) at (1193,1034) {};
\node[sq=turq, label=above:ACSL3] (c-ACSL3) at (948,1043) {};
\node[ci, label=above:HAND1] (c-HAND1) at (1035,1046) {};
\node[sq=turq, label=above:NIN] (c-NIN) at (996,1066) {};
\node[ci, label=above:AKAP14] (c-AKAP14) at (1071,1066) {};
\node[ci=turq, label=above:TSNAX] (c-TSNAX) at (1160,1074) {};
\node[sq=turq, label=above:CDK5RAP2] (c-CDK5RAP2) at (1233,1069) {};
\node[sq, label=above:AAR2] (c-AAR2) at (883,1070) {};
\node[ci, label=above:GJA5] (c-GJA5) at (945,1095) {};
\node[ci=turq, label=above:MAP2] (c-MAP2) at (982,1108) {};
\node[sq=turq, label=above:PRKAR2B] (c-PRKAR2B) at (1119,1095) {};
\node[sq=turq, label=above:PRKAR2A] (c-PRKAR2A) at (1069,1108) {};
\node[sq=turq, label=above:TUBGCP3] (c-TUBGCP3) at (1197,1108) {};
\node[sq=turq, label=above:MARK1] (c-MARK1) at (916,1146) {};
\node[sq=turq, label=above:AKAP8L] (c-AKAP8L) at (964,1153) {};
\node[sq, label=above:PRKACA] (c-PRKACA) at (1024,1136) {};
\node[ci=turq, label=above:AKAP1] (c-AKAP1) at (1097,1153) {};
\node[sq=turq, label=above:AKAP9] (c-AKAP9) at (1139,1147) {};
\node[sq=turq, label=above:COL6A1] (c-COL6A1) at (1266,1147) {};
\node[sq, label=above:PIGS] (c-PIGS) at (1327,1163) {};
\node[sq, label=above:PCNT] (c-PCNT) at (1203,1167) {};
\node[ci=turq, label=above:KCNQ1] (c-KCNQ1) at (1076,1189) {};
\node[ci=turq, label=above:PHKA1] (c-PHKA1) at (986,1193) {};
\node[sq=turq, label=above:RAB8A] (c-RAB8A) at (1028,1206) {};
\node[ci=turq, label=above:USO1] (c-USO1) at (1147,1215) {};
\node[sq=turq, label=above:TUBGCP2] (c-TUBGCP2) at (1258,1212) {};
\node[sq=turq, label=above:GOLGB1] (c-GOLGB1) at (1205,1252) {};
\node[sq, label=above:PIGO] (c-PIGO) at (938,1247) {};
\node[ci=turq, label=above:OCRL] (c-OCRL) at (1033,1261) {};
\node[sq=turq, label=above:RAB1A] (c-RAB1A) at (1095,1264) {};
\node[sq=turq, label=above:G3BP2] (c-G3BP2) at (1151,1277) {};
\end{scope}
\path[le] (c-LITAF) edge (c-REEP6) edge (c-COMT);
\path[le] (c-TCF12) edge (c-HOPX) edge (c-HAND1) edge (c-TSNAX);
\path[le] (c-TSNAX) edge (c-CDK5RAP2) edge (c-AKAP9);
\path[le] (c-IMMT) edge (c-PCNT);
\path[le] (c-MAP2) edge (c-AAR2) edge (c-PRKAR2A) edge (c-AKAP8L);
\path[le] (c-GJA5) edge (c-MARK1) edge (c-MAP2);
\path[le] (c-PRKACA) edge (c-NIN) edge (c-HAND1) edge (c-AKAP14) edge (c-AKAP8L) edge (c-KCNQ1) edge (c-PHKA1);
\path[le] (c-AKAP14) edge (c-PRKAR2A) edge (c-PRKAR2B);
\path[le] (c-AKAP1) edge (c-PRKAR2A) edge (c-PRKAR2B);
\path[le] (c-AKAP9) edge (c-PRKAR2B) edge (c-TUBGCP3) edge (c-KCNQ1) edge (c-PCNT) edge (c-USO1);
\path[le] (c-PCNT) edge (c-TUBGCP2);
\path[le] (c-USO1) edge (c-RAB1A) edge (c-GOLGB1);
\path[le] (c-OCRL) edge (c-RAB8A) edge (c-RAB1A);
\path[ce] (c-COMT) edge (c-HOPX) edge (c-MRPS5);
\path[ce] (c-MRPS5) edge (c-IMMT);
\path[ce] (c-G3BP1) edge (c-HAND1);
\path[ce] (c-ACSL3) edge (c-MAP2);
\path[ce] (c-PRKACA) edge (c-AKAP1) edge (c-RAB8A);
\path[ce] (c-PCNT) edge (c-COL6A1);
\path[ce] (c-COL6A1) edge (c-PIGS);
\path[ce] (c-PHKA1) edge (c-PIGO);
\path[ce] (c-USO1) edge (c-G3BP2);
\node[sub] (sub-vi) at (951,1299) {(vi)};
\node[ttl] (t-vi) at (1133,1297) {Cilium Organization};
\end{tikzpicture}
\end{document}
